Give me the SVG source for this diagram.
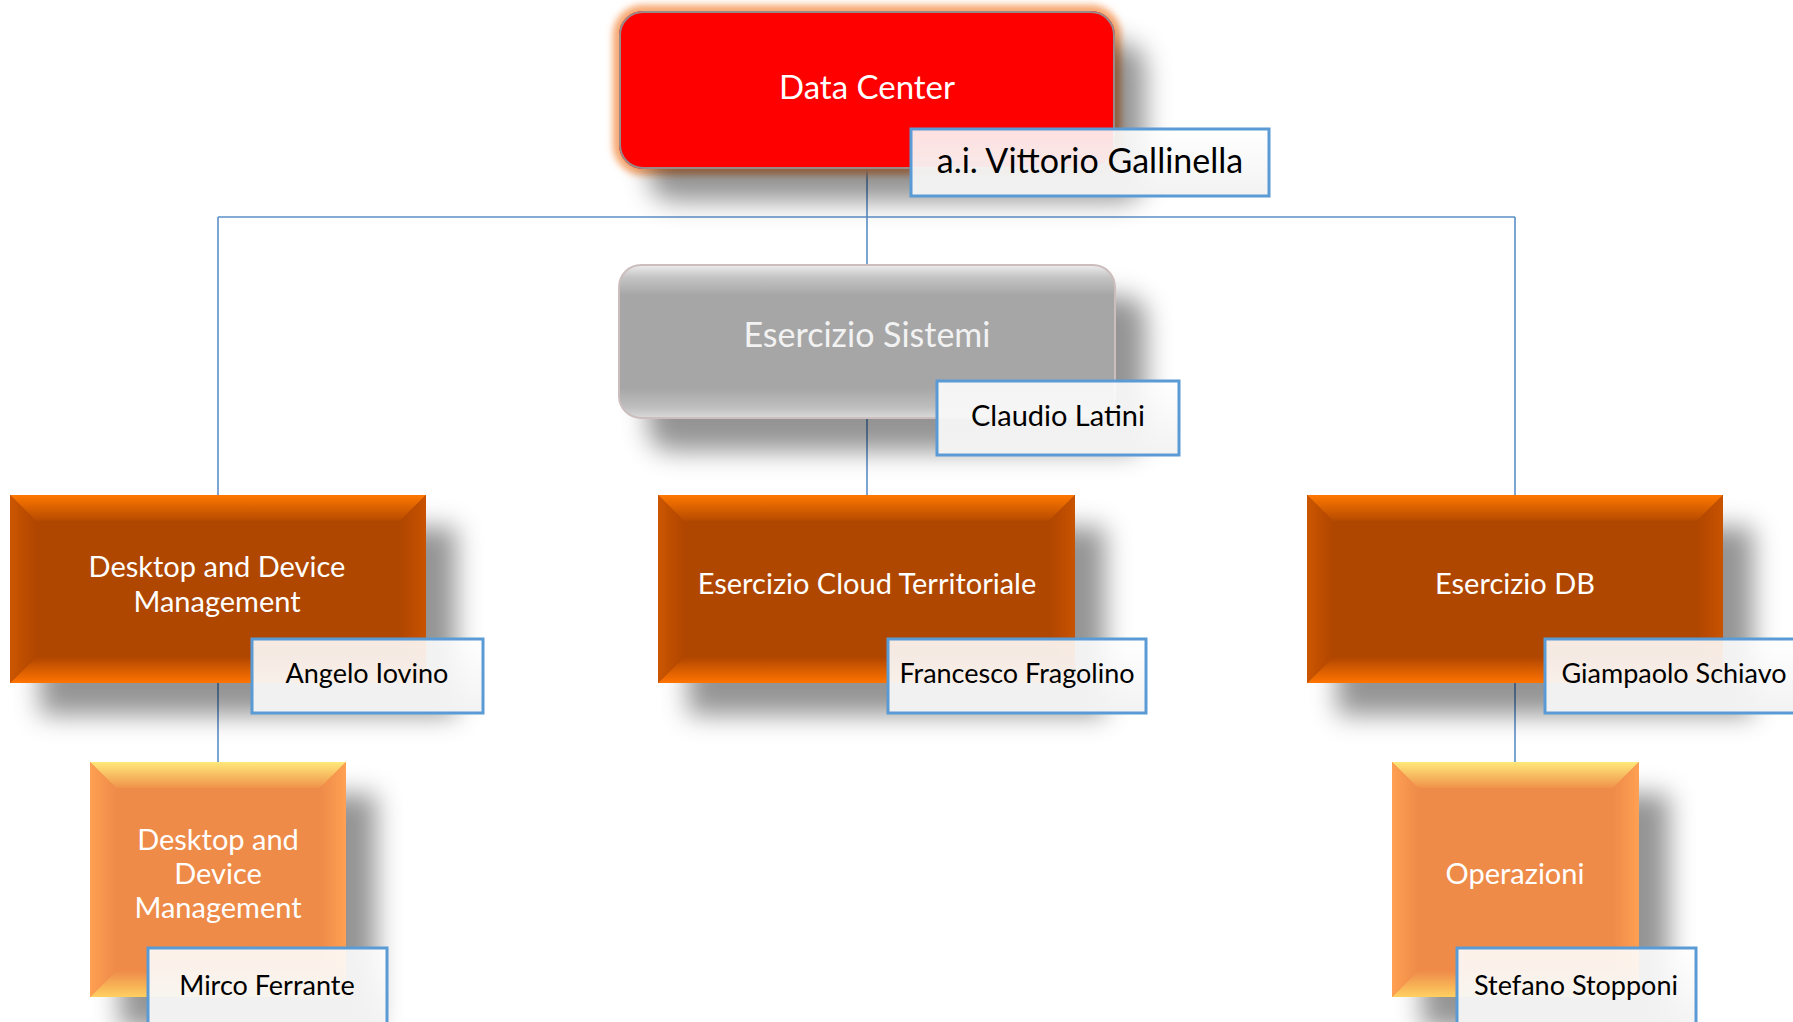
<svg xmlns="http://www.w3.org/2000/svg" width="1793" height="1022" viewBox="0 0 1793 1022">
<defs>
<style>
.conn{stroke:#5B8FC9;stroke-width:1.6;fill:none}
.lbl{font-family:Lato,"Open Sans",sans-serif;fill:#FFFFFF;text-anchor:middle}
.big{font-size:33px}
.mid{font-size:29px}
.nm{font-family:Lato,"Open Sans",sans-serif;fill:#000000;text-anchor:middle;font-size:27px}
.nbox{fill:url(#gName);stroke:#5B9BD5;stroke-width:3}
.dmain{fill:#B04600}
.dtop{fill:url(#gDTop)}
.dbot{fill:url(#gDBot)}
.dleft{fill:url(#gDLeft)}
.dright{fill:url(#gDRight)}
.lmain{fill:#EE8B4A}
.ltop{fill:url(#gLTop)}
.lbot{fill:url(#gLBot)}
.lleft{fill:url(#gLLeft)}
.lright{fill:url(#gLRight)}
</style>
<filter id="shadow" x="-25%" y="-25%" width="160%" height="180%">
<feDropShadow dx="30" dy="32" stdDeviation="13" flood-color="#000" flood-opacity="0.42"/>
</filter>
<filter id="glow" x="-10%" y="-20%" width="120%" height="140%">
<feGaussianBlur stdDeviation="3.5"/>
</filter>
<linearGradient id="gName" x1="0" y1="0" x2="0" y2="1">
<stop offset="0" stop-color="#FFFFFF" stop-opacity="0.88"/>
<stop offset="1" stop-color="#F2F2F2" stop-opacity="0.98"/>
</linearGradient>
<linearGradient id="gGray" x1="0" y1="0" x2="0" y2="1">
<stop offset="0" stop-color="#EDEDED"/>
<stop offset="0.08" stop-color="#C4C4C4"/>
<stop offset="0.2" stop-color="#A6A6A6"/>
<stop offset="0.8" stop-color="#A6A6A6"/>
<stop offset="0.93" stop-color="#BEBEBE"/>
<stop offset="1" stop-color="#DADADA"/>
</linearGradient>
<linearGradient id="gDTop" x1="0" y1="0" x2="0" y2="1">
<stop offset="0" stop-color="#FF7800"/>
<stop offset="1" stop-color="#B54A00"/>
</linearGradient>
<linearGradient id="gDBot" x1="0" y1="0" x2="0" y2="1">
<stop offset="0" stop-color="#B04600"/>
<stop offset="1" stop-color="#FF7400"/>
</linearGradient>
<linearGradient id="gDLeft" x1="0" y1="0" x2="1" y2="0">
<stop offset="0" stop-color="#CC5600"/>
<stop offset="1" stop-color="#B04600"/>
</linearGradient>
<linearGradient id="gDRight" x1="1" y1="0" x2="0" y2="0">
<stop offset="0" stop-color="#C85300"/>
<stop offset="1" stop-color="#B04600"/>
</linearGradient>
<linearGradient id="gLTop" x1="0" y1="0" x2="0" y2="1">
<stop offset="0" stop-color="#FFE97A"/>
<stop offset="1" stop-color="#F0924A"/>
</linearGradient>
<linearGradient id="gLBot" x1="0" y1="0" x2="0" y2="1">
<stop offset="0" stop-color="#EE8B4A"/>
<stop offset="1" stop-color="#FFD060"/>
</linearGradient>
<linearGradient id="gLLeft" x1="0" y1="0" x2="1" y2="0">
<stop offset="0" stop-color="#FFA052"/>
<stop offset="1" stop-color="#EE8B4A"/>
</linearGradient>
<linearGradient id="gLRight" x1="1" y1="0" x2="0" y2="0">
<stop offset="0" stop-color="#FFA052"/>
<stop offset="1" stop-color="#EE8B4A"/>
</linearGradient>
</defs>
<rect width="1793" height="1022" fill="#FFFFFF"/>

<g id="connectors">
<path class="conn" d="M867 169 V265"/>
<path class="conn" d="M218 217 H1515"/>
<path class="conn" d="M218 217 V495"/>
<path class="conn" d="M1515 217 V495"/>
<path class="conn" d="M867 418 V495"/>
<path class="conn" d="M218 683 V762"/>
<path class="conn" d="M1515 683 V762"/>
</g>

<g id="data-center">
<rect x="619" y="11" width="496" height="158" rx="24" fill="none" stroke="#F6A56C" stroke-width="12" filter="url(#glow)"/>
<rect x="619" y="11" width="496" height="158" rx="24" fill="#FF0000" filter="url(#shadow)"/>
<rect x="620" y="12" width="494" height="156" rx="23" fill="none" stroke="#9A8A8A" stroke-width="2"/>
<text class="lbl big" x="867" y="99">Data Center</text>
</g>
<g id="name-gallinella">
<rect class="nbox" x="911" y="129" width="358" height="67"/>
<text class="nm" x="1090" y="173" style="font-size:34px">a.i. Vittorio Gallinella</text>
</g>

<g id="esercizio-sistemi">
<rect x="619" y="265" width="496" height="153" rx="22" fill="url(#gGray)" stroke="#CDBEBE" stroke-width="2" filter="url(#shadow)"/>
<text class="lbl" x="867" y="347" style="fill:#F2F2F2;font-size:34px">Esercizio Sistemi</text>
</g>
<g id="name-latini">
<rect class="nbox" x="937" y="381" width="242" height="74"/>
<text class="nm" x="1058" y="426" style="font-size:29px">Claudio Latini</text>
</g>

<g id="desktop-device">
<g filter="url(#shadow)">
<rect class="dmain" x="10" y="495" width="416" height="188"/>
<polygon class="dtop" points="10,495 426,495 400,521 36,521"/>
<polygon class="dbot" points="10,683 426,683 400,657 36,657"/>
<polygon class="dleft" points="10,495 36,521 36,657 10,683"/>
<polygon class="dright" points="426,495 400,521 400,657 426,683"/>
</g>
<text class="lbl mid" x="217" y="577">Desktop and Device</text>
<text class="lbl mid" x="217" y="612">Management</text>
</g>
<g id="name-iovino">
<rect class="nbox" x="252" y="639" width="231" height="74"/>
<text class="nm" x="367" y="683">Angelo Iovino</text>
</g>

<g id="cloud-territoriale">
<g filter="url(#shadow)">
<rect class="dmain" x="658" y="495" width="417" height="188"/>
<polygon class="dtop" points="658,495 1075,495 1049,521 684,521"/>
<polygon class="dbot" points="658,683 1075,683 1049,657 684,657"/>
<polygon class="dleft" points="658,495 684,521 684,657 658,683"/>
<polygon class="dright" points="1075,495 1049,521 1049,657 1075,683"/>
</g>
<text class="lbl mid" x="867" y="594">Esercizio Cloud Territoriale</text>
</g>
<g id="name-fragolino">
<rect class="nbox" x="888" y="639" width="258" height="74"/>
<text class="nm" x="1017" y="683">Francesco Fragolino</text>
</g>

<g id="esercizio-db">
<g filter="url(#shadow)">
<rect class="dmain" x="1307" y="495" width="416" height="188"/>
<polygon class="dtop" points="1307,495 1723,495 1697,521 1333,521"/>
<polygon class="dbot" points="1307,683 1723,683 1697,657 1333,657"/>
<polygon class="dleft" points="1307,495 1333,521 1333,657 1307,683"/>
<polygon class="dright" points="1723,495 1697,521 1697,657 1723,683"/>
</g>
<text class="lbl mid" x="1515" y="594">Esercizio DB</text>
</g>
<g id="name-schiavo">
<rect class="nbox" x="1545" y="639" width="258" height="74"/>
<text class="nm" x="1674" y="683">Giampaolo Schiavo</text>
</g>

<g id="desktop-device-sub">
<g filter="url(#shadow)">
<rect class="lmain" x="90" y="762" width="256" height="235"/>
<polygon class="ltop" points="90,762 346,762 320,788 116,788"/>
<polygon class="lbot" points="90,997 346,997 320,971 116,971"/>
<polygon class="lleft" points="90,762 116,788 116,971 90,997"/>
<polygon class="lright" points="346,762 320,788 320,971 346,997"/>
</g>
<text class="lbl mid" x="218" y="850">Desktop and</text>
<text class="lbl mid" x="218" y="884">Device</text>
<text class="lbl mid" x="218" y="918">Management</text>
</g>
<g id="name-ferrante">
<rect class="nbox" x="148" y="948" width="239" height="84"/>
<text class="nm" x="267" y="995">Mirco Ferrante</text>
</g>

<g id="operazioni">
<g filter="url(#shadow)">
<rect class="lmain" x="1392" y="762" width="247" height="235"/>
<polygon class="ltop" points="1392,762 1639,762 1613,788 1418,788"/>
<polygon class="lbot" points="1392,997 1639,997 1613,971 1418,971"/>
<polygon class="lleft" points="1392,762 1418,788 1418,971 1392,997"/>
<polygon class="lright" points="1639,762 1613,788 1613,971 1639,997"/>
</g>
<text class="lbl mid" x="1515" y="884">Operazioni</text>
</g>
<g id="name-stopponi">
<rect class="nbox" x="1457" y="948" width="239" height="84"/>
<text class="nm" x="1576" y="995">Stefano Stopponi</text>
</g>
</svg>
